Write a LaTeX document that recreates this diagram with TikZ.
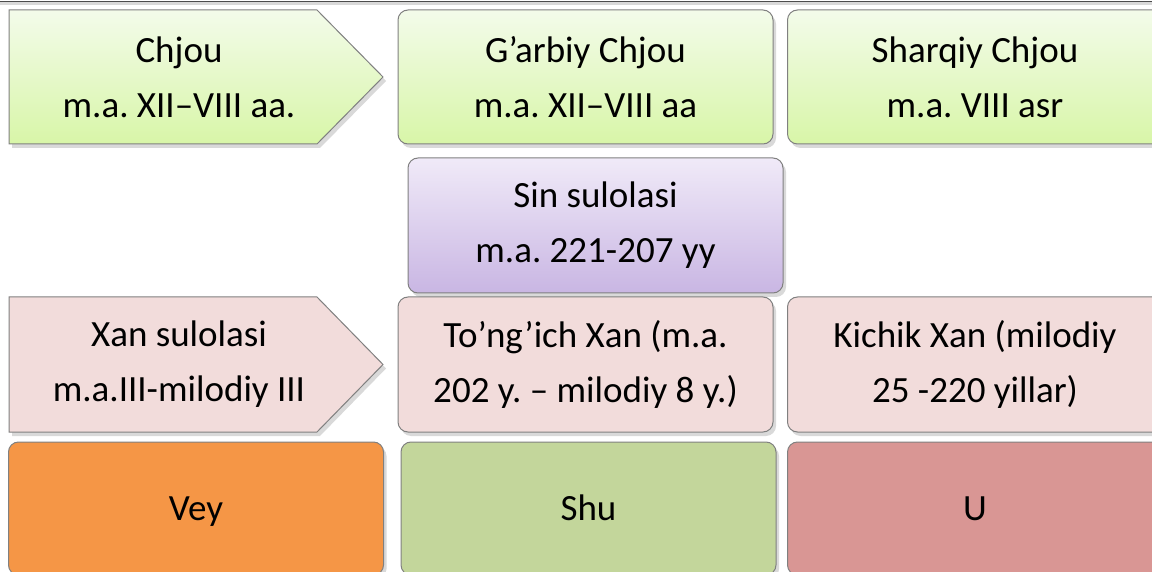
\documentclass[tikz,border=0pt]{standalone}
\usepackage{fontspec}
\setmainfont{Carlito}
\frenchspacing
\usetikzlibrary{shadows}

\definecolor{grtop}{HTML}{F3FBEA}
\definecolor{grbot}{HTML}{D8F6A8}
\definecolor{vitop}{HTML}{F0EAF8}
\definecolor{vibot}{HTML}{C9B6E3}
\definecolor{pink}{HTML}{F2DCDB}
\definecolor{vey}{HTML}{F59646}
\definecolor{shu}{HTML}{C3D69B}
\definecolor{ucol}{HTML}{D99694}

\tikzset{
  shad/.style={drop shadow={shadow xshift=3pt,shadow yshift=-4pt,opacity=.3}},
  txt/.style={align=center,font=\fontsize{37}{55}\selectfont},
  box/.style={txt,shad,draw=black!50,line width=1pt,rounded corners=10pt,
    inner sep=0pt,minimum width=375pt,minimum height=134pt},
  greenbox/.style={box,top color=grtop,bottom color=grbot},
  pinkbox/.style={box,fill=pink},
  onerow/.style={box,minimum height=133pt,text height=24pt,text depth=0pt},
}

\begin{document}
\begin{tikzpicture}[x=1pt,y=-1pt]
    \useasboundingbox (0,0) rectangle (1152,572);
    % strip of the box above
    \draw [shad,fill=white,draw=black!70,line width=1.5pt] (-20,-60) rectangle (1172,1.5);

    % Chjou
    \draw [shad,top color=grtop,bottom color=grbot,draw=black!50,line width=1pt]
      (9,10)--(317,10)--(383,77)--(317,144)--(9,144)--cycle;
    \node [txt] (chjou) at (179,77) {Chjou\\m.a. XII–VIII aa.};
    \node [greenbox] (garbiy) at (585.5,77) {G’arbiy Chjou\\m.a. XII–VIII aa};
    \node [greenbox] (sharqiy) at (975,77) {Sharqiy Chjou\\m.a. VIII asr};

    % Sin
    \node [box,top color=vitop,bottom color=vibot,minimum height=135pt] (sin) at (595.5,225.5) {Sin sulolasi\\m.a. 221-207 yy};

    % Xan
    \draw [shad,fill=pink,draw=black!50,line width=1pt]
      (9,297)--(317,297)--(383,364.5)--(317,432)--(9,432)--cycle;
    \node [txt] (xan) at (179,364.5) {Xan sulolasi\\m.a.III-milodiy III};
    \node [pinkbox,minimum height=135pt] (tongich) at (585.5,364.5) {To’ng’ich Xan (m.a.\\202 y. – milodiy 8 y.)};
    \node [pinkbox,minimum height=135pt] (kichik) at (975,364.5) {Kichik Xan (milodiy\\25 -220 yillar)};

    % uch podsholik
    \node [onerow,fill=vey] (vey) at (196,508.5) {Vey};
    \node [onerow,fill=shu] (shu) at (588.5,508.5) {Shu};
    \node [onerow,fill=ucol] (u) at (975,508.5) {U};
\end{tikzpicture}
\end{document}
